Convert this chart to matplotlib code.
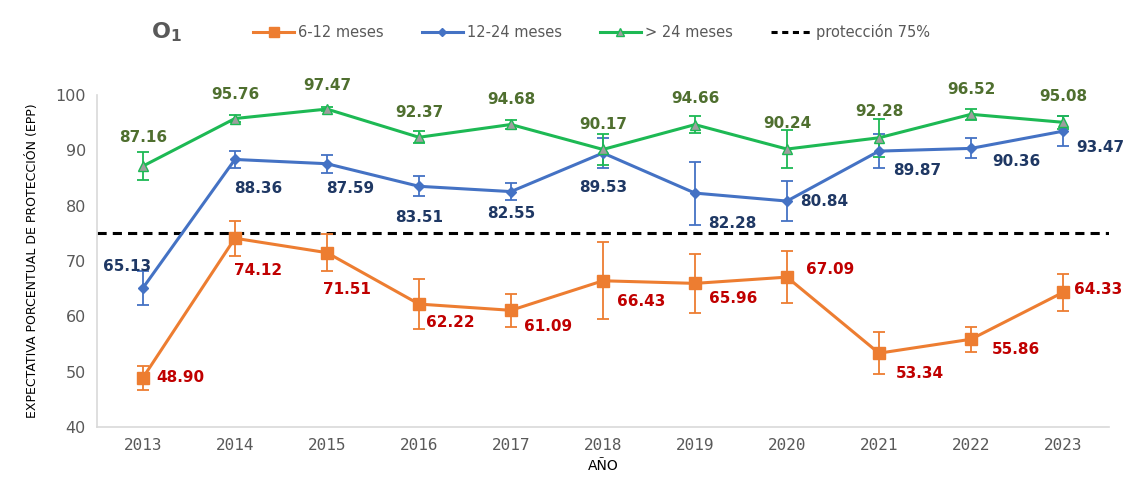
import matplotlib.pyplot as plt
from matplotlib.lines import Line2D

years = ["2013", "2014", "2015", "2016", "2017", "2018", "2019", "2020", "2021", "2022", "2023"]

# EPP by age group with error (+/-)
epp_6_12 = [48.90, 74.12, 71.51, 62.22, 61.09, 66.43, 65.96, 67.09, 53.34, 55.86, 64.33]
err_6_12 = [2.2, 3.2, 3.3, 4.5, 3.0, 7.0, 5.3, 4.7, 3.8, 2.3, 3.4]
epp_12_24 = [65.13, 88.36, 87.59, 83.51, 82.55, 89.53, 82.28, 80.84, 89.87, 90.36, 93.47]
err_12_24 = [3.0, 1.5, 1.6, 1.8, 1.5, 2.7, 5.7, 3.6, 3.1, 1.8, 2.7]
epp_24 = [87.16, 95.76, 97.47, 92.37, 94.68, 90.17, 94.66, 90.24, 92.28, 96.52, 95.08]
err_24 = [2.5, 0.7, 0.4, 1.1, 0.8, 2.8, 1.5, 3.5, 3.4, 1.0, 1.2]
PROTECTION = 75

# label offsets in pixels (dx, dy), dy positive = up
off_6_12 = [(37, 0), (23, -32), (20, -37), (31, -18), (37, -16), (38, -21),
            (38, -15), (43, 8), (41, -20), (45, -10), (35, 3)]
off_12_24 = [(-16, 21), (23, -29), (23, -25), (0, -31), (0, -22), (0, -35),
             (37, -30), (37, 0), (38, -19), (45, -13), (37, -16)]
off_24 = [(0, 29), (0, 24), (0, 24), (0, 25), (0, 25), (0, 25),
          (0, 26), (0, 26), (0, 26), (0, 25), (0, 26)]

ORANGE, BLUE, GREEN = "#ED7D31", "#4472C4", "#1DB954"
x = list(range(len(years)))

fig = plt.figure(figsize=(11.27, 4.98), dpi=100)
ax = fig.add_axes([0.086, 0.1426, 0.898, 0.6665])

series = [
    ("6-12 meses", epp_6_12, err_6_12, off_6_12, ORANGE, "s", ORANGE, 8, "#C00000"),
    ("12-24 meses", epp_12_24, err_12_24, off_12_24, BLUE, "D", BLUE, 5, "#1F3864"),
    ("> 24 meses", epp_24, err_24, off_24, GREEN, "^", "#9E9E9E", 7, "#4F6F2F"),
]
handles = []
for name, vals, errs, offs, col, mk, mfc, ms, lcol in series:
    ax.errorbar(x, vals, yerr=errs, color=col, lw=2.2, marker=mk, ms=ms,
                mfc=mfc, mec=col, ecolor=col, elinewidth=1.3, capsize=4,
                capthick=1.3, zorder=3)
    handles.append(Line2D([], [], color=col, lw=2.2, marker=mk, ms=ms - 1,
                          mfc=mfc, mec=col, label=name))
    for xi, v, (dx, dy) in zip(x, vals, offs):
        ax.annotate(f"{v:.2f}", (xi, v), xytext=(dx, dy), textcoords="offset pixels",
                    ha="center", va="center", fontsize=11, fontweight="bold",
                    color=lcol, zorder=4)

ax.axhline(PROTECTION, color="black", ls=(0, (3, 2)), lw=2.2, zorder=2)
handles.append(Line2D([], [], color="black", ls=(0, (2, 1.5)), lw=2.2,
                      label="protección 75%"))

ax.set_xlim(-0.5, len(years) - 0.5)
ax.set_ylim(40, 100)
ax.set_yticks(range(40, 101, 10))
ax.set_xticks(x)
ax.set_xticklabels(years)
ax.tick_params(length=0, colors="#595959", labelsize=11.5, pad=8)
for lbl in ax.get_xticklabels():
    lbl.set_fontfamily("DejaVu Sans Mono")
for s in ["top", "right"]:
    ax.spines[s].set_visible(False)
for s in ["left", "bottom"]:
    ax.spines[s].set_color("#D9D9D9")
    ax.spines[s].set_linewidth(1.2)

ax.set_ylabel("EXPECTATIVA PORCENTUAL DE PROTECCIÓN (EPP)", fontsize=9,
              fontfamily="Liberation Sans Narrow", color="black", labelpad=12)
ax.set_xlabel("AÑO", fontsize=10, fontfamily="Liberation Sans Narrow", labelpad=4)

fig.text(0.134, 0.935, r"$\mathbf{O_1}$", fontsize=16, color="#595959",
         ha="left", va="center")

leg = fig.legend(handles=handles, loc="center", bbox_to_anchor=(0.525, 0.935), ncol=4,
                 frameon=False, fontsize=10.5, handlelength=2.8, columnspacing=2.6,
                 handletextpad=0.3)
for t in leg.get_texts():
    t.set_color("#595959")

fig.savefig("out.png", dpi=100)
